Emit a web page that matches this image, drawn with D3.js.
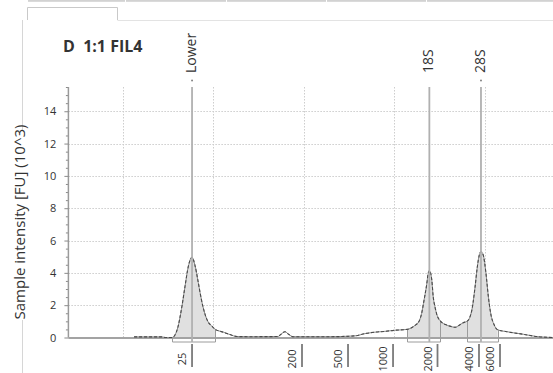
<!DOCTYPE html>
<html>
<head>
<meta charset="utf-8">
<script src="https://cdn.jsdelivr.net/npm/d3@7"></script>
<style>
  body { margin: 0; background: #fff; }
  svg { display: block; }
  text { font-family: "Open Sans", "DejaVu Sans", sans-serif; fill: #333; }
</style>
</head>
<body>
<svg id="chart" width="553" height="373"></svg>
<script>
// Electropherogram trace: migration time (s) and fluorescence (FU x 10^3)
const traceTime = [26.25, 29.30, 29.70, 30.44, 30.96, 31.54, 31.87, 32.24, 32.65, 32.98,
  33.34, 33.53, 33.86, 34.08, 34.44, 34.82, 35.18, 36.10, 36.84, 37.61,
  39.05, 42.14, 42.47, 42.91, 43.35, 43.80, 47.88, 50.64, 51.74, 52.85,
  53.95, 55.06, 56.38, 57.26, 57.71, 58.00, 58.26, 58.56, 58.70, 58.85,
  59.11, 59.28, 59.47, 59.66, 60.02, 60.76, 61.32, 61.68, 62.04, 62.60,
  63.01, 63.28, 63.56, 63.89, 64.14, 64.36, 64.55, 64.80, 65.10, 65.36,
  65.62, 65.99, 66.39, 67.39, 69.22, 70.70, 72.50];
const traceFU = [0.04, 0.04, 0.00, 0.00, 0.40, 1.95, 3.15, 4.40, 4.97, 4.45,
  3.40, 2.80, 1.90, 1.45, 0.95, 0.72, 0.52, 0.33, 0.18, 0.06,
  0.05, 0.06, 0.20, 0.36, 0.18, 0.05, 0.05, 0.10, 0.24, 0.33,
  0.38, 0.45, 0.50, 0.75, 1.00, 1.50, 2.30, 3.30, 3.90, 4.14,
  3.60, 2.50, 1.90, 1.45, 1.05, 0.77, 0.67, 0.63, 0.72, 0.92,
  1.00, 1.20, 1.75, 3.10, 4.35, 5.10, 5.31, 5.10, 3.97, 2.55,
  1.50, 0.80, 0.48, 0.36, 0.20, 0.06, 0.00];

// Called peaks
const peakNames = ["Lower", "18S", "28S"];
const peakTimes = [32.65, 58.85, 64.55];
const peakDots = [true, false, true];

// Integrated regions (brackets) and shaded spans
const regionStarts = [30.44, 56.38, 63.01];
const regionEnds = [35.18, 60.02, 66.39];
const shadeStarts = [30.44, 56.38];
const shadeEnds = [35.18, 66.39];

// Ladder sizes [nt] and their migration times
const ladderLabels = ["25", "200", "500", "1000", "2000", "4000", "6000"];
const ladderTimes = [32.65, 44.79, 49.87, 54.84, 59.75, 64.33, 66.65];

// Axis ticks
const yMajorTicks = [0, 2, 4, 6, 8, 10, 12, 14];
const yMinorTicks = [0.5, 1, 1.5, 2.5, 3, 3.5, 4.5, 5, 5.5, 6.5, 7, 7.5, 8.5, 9, 9.5,
  10.5, 11, 11.5, 12.5, 13, 13.5, 14.5, 15, 15.5];
const timeGrid = [25, 35, 45, 55, 65];

const chartTitle = "D  1:1 FIL4";
const yTitle = "Sample intensity [FU] (10^3)";

const trace = traceTime.map((t, i) => ({ t, v: traceFU[i] }));

const svg = d3.select("#chart");
const x = d3.scaleLinear().domain([19, 72.5]).range([68.4, 553]);
const y = d3.scaleLinear().domain([0, 15.5]).range([337.5, 87]);
const bracketY = 342;

// --- window chrome: tab strip, active tab and panel edges
const tabBreaks = [27, 125, 226, 326, 426, 553];
svg.append("g").selectAll("rect").data(d3.pairs(tabBreaks)).join("rect")
  .attr("x", d => d[0] + 1).attr("y", 0)
  .attr("width", d => d[1] - d[0] - 1).attr("height", 1.8)
  .attr("fill", "#d2d2d2");
svg.append("path").attr("d", "M27.5,20V7.5H117.5V20")
  .attr("fill", "none").attr("stroke", "#c9c9c9");
svg.append("path").attr("d", "M117.5,20.5H553")
  .attr("fill", "none").attr("stroke", "#e3e3e3");
svg.append("path").attr("d", "M22.5,20V373")
  .attr("fill", "none").attr("stroke", "#d6d6d6");

// --- grid
const grid = svg.append("g").attr("stroke", "#cdcdcd").attr("stroke-dasharray", "1.5,1.5");
grid.selectAll(".h").data(yMajorTicks.filter(d => d > 0)).join("line")
  .attr("x1", x(19)).attr("x2", x(72.5))
  .attr("y1", d => Math.round(y(d)) + 0.5).attr("y2", d => Math.round(y(d)) + 0.5);
grid.selectAll(".v").data(timeGrid).join("line")
  .attr("x1", d => Math.round(x(d)) + 0.5).attr("x2", d => Math.round(x(d)) + 0.5)
  .attr("y1", y(15.5)).attr("y2", y(0));

// --- trace helpers
const valueAt = t => {
  const i = d3.bisector(d => d.t).left(trace, t);
  if (i <= 0) return trace[0].v;
  if (i >= trace.length) return trace[trace.length - 1].v;
  const a = trace[i - 1], b = trace[i];
  return a.v + (b.v - a.v) * (t - a.t) / (b.t - a.t);
};

const area = d3.area().x(d => x(d.t)).y0(y(0)).y1(d => y(d.v)).curve(d3.curveMonotoneX);
const line = d3.line().x(d => x(d.t)).y(d => y(d.v)).curve(d3.curveMonotoneX);

// --- shaded peak areas
const defs = svg.append("defs");
shadeStarts.forEach((s, i) => {
  defs.append("clipPath").attr("id", "shade" + i).append("rect")
    .attr("x", x(s)).attr("y", 0)
    .attr("width", x(shadeEnds[i]) - x(s)).attr("height", y(0));
  svg.append("path").datum(trace).attr("d", area)
    .attr("clip-path", `url(#shade${i})`).attr("fill", "#e0e0e0");
});

// --- baseline
svg.append("line").attr("x1", x(19)).attr("x2", x(72.5))
  .attr("y1", y(0) + 0.5).attr("y2", y(0) + 0.5)
  .attr("stroke", "#a3a3a3").attr("stroke-width", 2);

// --- region brackets below the baseline
const br = svg.append("g").attr("stroke", "#9c9c9c").attr("fill", "none");
regionStarts.forEach((s, i) => {
  const e = regionEnds[i];
  const xs = Math.round(x(s)) + 0.5, xe = Math.round(x(e)) + 0.5;
  br.append("path").attr("d",
    `M${xs},${y(valueAt(s))}V${bracketY}H${xe}V${y(valueAt(e))}`);
});

// --- trace outline
svg.append("path").datum(trace).attr("d", line)
  .attr("fill", "none").attr("stroke", "#8a8a8a").attr("stroke-width", 1);
svg.append("path").datum(trace).attr("d", line)
  .attr("fill", "none").attr("stroke", "#4a4a4a").attr("stroke-width", 1.1)
  .attr("stroke-dasharray", "3,2");

// --- peak marker lines and labels
const pk = svg.append("g");
pk.selectAll("line").data(peakTimes).join("line")
  .attr("x1", d => x(d)).attr("x2", d => x(d))
  .attr("y1", y(15.5)).attr("y2", bracketY)
  .attr("stroke", "#b0b0b0").attr("stroke-width", 1.8);
pk.selectAll("text").data(peakNames).join("text")
  .attr("transform", (d, i) => `translate(${x(peakTimes[i]) + 4},73) rotate(-90)`)
  .attr("font-size", 14).text(d => d);
pk.selectAll("circle").data(peakTimes.filter((d, i) => peakDots[i])).join("circle")
  .attr("cx", d => x(d)).attr("cy", 80.5).attr("r", 0.9).attr("fill", "#777");

// --- y axis
const yAxisG = svg.append("g").attr("transform", `translate(${x(19)},0)`);
yAxisG.append("g")
  .call(d3.axisLeft(y).tickValues(yMinorTicks).tickSize(2.5).tickSizeOuter(0).tickFormat(""))
  .call(g => g.select(".domain").remove());
yAxisG.append("g")
  .call(d3.axisLeft(y).tickValues(yMajorTicks).tickSize(4).tickSizeOuter(0).tickPadding(8))
  .call(g => g.select(".domain").attr("stroke", "#9a9a9a").attr("stroke-width", 1.5)
    .attr("d", `M0,${y(15.5)}V${y(0)}`));
yAxisG.selectAll(".tick line").attr("stroke", "#8a8a8a");
yAxisG.selectAll(".tick text").attr("font-size", 11).attr("fill", "#333")
  .attr("font-family", "'Open Sans', sans-serif");

// --- ladder size axis
const ld = svg.append("g");
ld.selectAll("line").data(ladderTimes).join("line")
  .attr("x1", d => x(d)).attr("x2", d => x(d))
  .attr("y1", 344).attr("y2", 367)
  .attr("stroke", "#7a7a7a").attr("stroke-width", 1.8);
ld.selectAll("text").data(ladderLabels).join("text")
  .attr("transform", (d, i) => `translate(${x(ladderTimes[i]) - 6},359) rotate(-90)`)
  .attr("text-anchor", "middle").attr("font-size", 11).text(d => d);

// --- titles
svg.append("text").attr("x", 63).attr("y", 52)
  .attr("font-size", 16).attr("font-weight", "bold").attr("fill", "#222")
  .style("white-space", "pre").text(chartTitle);

svg.append("rect").attr("x", 12).attr("y", 130).attr("width", 18).attr("height", 190)
  .attr("fill", "#fff");
svg.append("text").attr("transform", "translate(25,222) rotate(-90)")
  .attr("text-anchor", "middle").attr("font-size", 15).text(yTitle);
</script>
</body>
</html>
